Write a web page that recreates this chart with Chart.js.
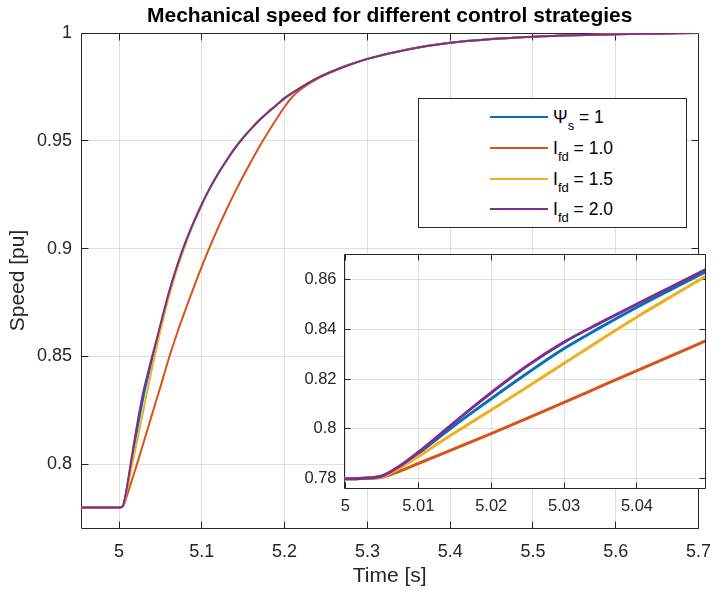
<!DOCTYPE html>
<html>
<head>
<meta charset="utf-8">
<script src="https://cdn.jsdelivr.net/npm/chart.js@4.4.0/dist/chart.umd.min.js"></script>
<style>
  body{margin:0;background:#fff;}
  #wrap{position:relative;width:724px;height:591px;font-family:"Liberation Sans",Arial,sans-serif;}
  canvas{position:absolute;left:0;top:0;}
  #inset{pointer-events:none;}
  #legend{position:absolute;left:418px;top:98px;width:267px;height:128px;border:1px solid #262626;background:#fff;}
  .row{position:absolute;left:71px;height:20px;display:flex;align-items:center;}
  .swatch{width:58px;height:2px;margin-right:5px;}
  .lbl{font-size:17.5px;color:#000;white-space:nowrap;line-height:20px;}
  .lbl sub{font-size:13px;vertical-align:-7px;line-height:0;}
</style>
</head>
<body>
<div id="wrap">
  <canvas id="main" width="724" height="591"></canvas>
  <canvas id="inset" width="724" height="591"></canvas>
  <div id="legend">
    <div class="row" style="top:7.7px"><div class="swatch" style="background:#0072BD"></div><span class="lbl">&Psi;<sub>s</sub> = 1</span></div>
    <div class="row" style="top:38.7px"><div class="swatch" style="background:#D95319"></div><span class="lbl">I<sub>fd</sub> = 1.0</span></div>
    <div class="row" style="top:69.7px"><div class="swatch" style="background:#EDB120"></div><span class="lbl">I<sub>fd</sub> = 1.5</span></div>
    <div class="row" style="top:100.3px"><div class="swatch" style="background:#7E2F8E"></div><span class="lbl">I<sub>fd</sub> = 2.0</span></div>
  </div>
</div>
<script>
// time base, dense around the step so the zoomed axes stay smooth
const time = [4.95, 5.0, 5.0025, 5.005, 5.0075, 5.01, 5.0125, 5.015, 5.0175, 5.02, 5.025, 5.03, 5.035, 5.04, 5.045, 5.05,
  5.06, 5.07, 5.08, 5.09, 5.1, 5.11, 5.12, 5.13, 5.14, 5.15, 5.16, 5.17, 5.18, 5.19, 5.2, 5.21, 5.22, 5.23, 5.24,
  5.26, 5.28, 5.3, 5.35, 5.4, 5.45, 5.5, 5.55, 5.6, 5.65, 5.7];

const speedPsi = [0.78, 0.78, 0.7802, 0.781, 0.7848, 0.7901, 0.7958, 0.8014, 0.8068, 0.8121, 0.8224, 0.8322, 0.8407, 0.8488, 0.8564, 0.8639,
  0.879, 0.8916, 0.9025, 0.912, 0.9205, 0.9283, 0.935, 0.941, 0.9466, 0.9515, 0.9558, 0.9598, 0.9633, 0.9665, 0.9698, 0.9724, 0.9748, 0.9771, 0.9792,
  0.9826, 0.9855, 0.988, 0.9925, 0.9955, 0.9972, 0.9983, 0.999, 0.9994, 0.9997, 1.0];

const speedIfd10 = [0.78, 0.78, 0.7801, 0.7806, 0.7831, 0.7861, 0.7891, 0.7921, 0.7951, 0.7981, 0.8043, 0.8106, 0.817, 0.8234, 0.8297, 0.836,
  0.849, 0.8607, 0.8715, 0.8818, 0.8918, 0.9012, 0.91, 0.9183, 0.9262, 0.9337, 0.9408, 0.9476, 0.954, 0.96, 0.9658, 0.9707, 0.974, 0.9766, 0.9789,
  0.9825, 0.9855, 0.988, 0.9925, 0.9955, 0.9972, 0.9983, 0.999, 0.9994, 0.9997, 1.0];

const speedIfd15 = [0.78, 0.78, 0.7802, 0.7808, 0.7843, 0.7889, 0.7937, 0.7984, 0.803, 0.8076, 0.8169, 0.8263, 0.8357, 0.8449, 0.8536, 0.8621,
  0.8775, 0.8905, 0.9018, 0.9117, 0.9203, 0.9283, 0.935, 0.941, 0.9466, 0.9515, 0.9558, 0.9598, 0.9633, 0.9665, 0.9698, 0.9724, 0.9748, 0.9771, 0.9792,
  0.9826, 0.9855, 0.988, 0.9925, 0.9955, 0.9972, 0.9983, 0.999, 0.9994, 0.9997, 1.0];

const speedIfd20 = [0.78, 0.78, 0.7802, 0.7811, 0.7852, 0.7906, 0.7966, 0.8027, 0.8087, 0.8145, 0.8254, 0.8348, 0.8426, 0.8501, 0.8574, 0.8648,
  0.8795, 0.892, 0.9028, 0.9122, 0.9207, 0.9283, 0.935, 0.941, 0.9466, 0.9515, 0.9558, 0.9598, 0.9633, 0.9665, 0.9698, 0.9724, 0.9748, 0.9771, 0.9792,
  0.9826, 0.9855, 0.988, 0.9925, 0.9955, 0.9972, 0.9983, 0.999, 0.9994, 0.9997, 1.0];

const mainXTicks = [5, 5.1, 5.2, 5.3, 5.4, 5.5, 5.6, 5.7];
const mainYTicks = [0.8, 0.85, 0.9, 0.95, 1];
const zoomXTicks = [5, 5.01, 5.02, 5.03, 5.04];
const zoomYTicks = [0.78, 0.8, 0.82, 0.84, 0.86];

const FONT = '"Liberation Sans", Arial, sans-serif';
const AXIS = '#262626';
const GRID = 'rgba(38,38,38,0.15)';

const series = [
  {label: 'Psi_s = 1', data: speedPsi, color: '#0072BD'},
  {label: 'I_fd = 1.0', data: speedIfd10, color: '#D95319'},
  {label: 'I_fd = 1.5', data: speedIfd15, color: '#EDB120'},
  {label: 'I_fd = 2.0', data: speedIfd20, color: '#7E2F8E'}
];

function buildSets(width, clip){
  return series.map((s, i) => ({
    label: s.label,
    data: time.map((t, k) => ({x: t, y: s.data[k]})),
    borderColor: s.color,
    borderWidth: width,
    pointRadius: 0,
    fill: false,
    cubicInterpolationMode: 'monotone',
    clip: clip,
    order: series.length - i   // last series ends up on top
  }));
}

function align(p){ return Math.round(p - 0.5) + 0.5; }

// box around the plot area with inward ticks on all four sides
const boxTicks = {
  id: 'boxTicks',
  beforeDraw(chart, args, opts){
    if(!opts.fill) return;
    const a = chart.chartArea, ctx = chart.ctx;
    ctx.save();
    ctx.fillStyle = '#fff';
    ctx.fillRect(a.left, a.top, a.right - a.left, a.bottom - a.top);
    ctx.restore();
  },
  beforeDatasetsDraw(chart, args, opts){
    const {ctx, chartArea: a, scales: {x, y}} = chart;
    const len = opts.len;
    const L = align(a.left), R = align(a.right), T = align(a.top), B = align(a.bottom);
    ctx.save();
    ctx.strokeStyle = AXIS;
    ctx.lineWidth = 1;
    ctx.beginPath();
    x.ticks.forEach(t => {
      const px = align(x.getPixelForValue(t.value));
      ctx.moveTo(px, B); ctx.lineTo(px, B - len);
      ctx.moveTo(px, T); ctx.lineTo(px, T + len);
    });
    y.ticks.forEach(t => {
      const py = align(y.getPixelForValue(t.value));
      ctx.moveTo(L, py); ctx.lineTo(L + len, py);
      ctx.moveTo(R, py); ctx.lineTo(R - len, py);
    });
    ctx.rect(L, T, R - L, B - T);
    ctx.stroke();
    ctx.restore();
  }
};

function axis(min, max, ticks, size, pad, fit, title){
  const o = {
    type: 'linear', min: min, max: max,
    afterBuildTicks: s => { s.ticks = ticks.map(v => ({value: v})); },
    afterFit: fit,
    grid: {color: GRID, lineWidth: 1, drawTicks: false},
    border: {display: false},
    ticks: {callback: v => String(v), color: AXIS, font: {family: FONT, size: size}, padding: pad, maxRotation: 0, autoSkip: false}
  };
  if(title) o.title = title;
  return o;
}

new Chart(document.getElementById('main'), {
  type: 'line',
  data: {datasets: buildSets(2, undefined)},
  options: {
    responsive: false, animation: false, events: [],
    layout: {padding: {left: 0, right: 14, top: 0, bottom: 0}},
    plugins: {
      legend: {display: false}, tooltip: {enabled: false},
      title: {display: true, fullSize: false, text: 'Mechanical speed for different control strategies', color: '#000',
        font: {family: FONT, size: 21, weight: 'bold'}, padding: {top: 4, bottom: 3.8}},
      boxTicks: {len: 7, fill: false}
    },
    scales: {
      x: axis(4.954, 5.7, mainXTicks, 18, 13, s => { s.height = 63; },
        {display: true, text: 'Time [s]', color: AXIS, font: {family: FONT, size: 21}, padding: {top: 0, bottom: 2}}),
      y: axis(0.7705, 1, mainYTicks, 18, 9, s => { s.width = 81; },
        {display: true, text: 'Speed [pu]', color: AXIS, font: {family: FONT, size: 21}, padding: {top: 6, bottom: 0}})
    }
  },
  plugins: [boxTicks]
});

new Chart(document.getElementById('inset'), {
  type: 'line',
  data: {datasets: buildSets(3, 0)},
  options: {
    responsive: false, animation: false, events: [],
    layout: {padding: {left: 290, right: 19, top: 254, bottom: 70}},
    plugins: {
      legend: {display: false}, tooltip: {enabled: false}, title: {display: false},
      boxTicks: {len: 6, fill: true}
    },
    scales: {
      x: axis(4.99981, 5.04933, zoomXTicks, 16.5, 9, s => { s.height = 33; }),
      y: axis(0.77627, 0.87015, zoomYTicks, 16.5, 7.5, s => { s.width = 54; })
    }
  },
  plugins: [boxTicks]
});
</script>
</body>
</html>
